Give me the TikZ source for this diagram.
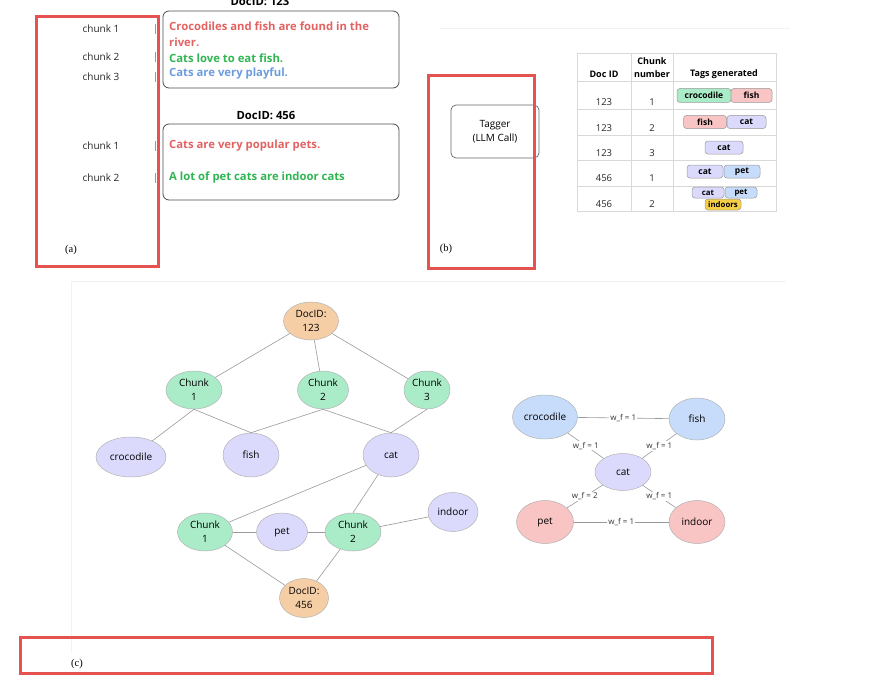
\documentclass[tikz,border=0pt]{standalone}
\usepackage{fontspec}
\setmainfont{Liberation Serif}
\setsansfont{Open Sans}
\usetikzlibrary{shapes.geometric}

\definecolor{frame}{RGB}{229,83,80}
\definecolor{txtred}{RGB}{226,98,98}
\definecolor{txtgreen}{RGB}{48,181,82}
\definecolor{txtblue}{RGB}{106,155,224}
\definecolor{mint}{RGB}{170,236,200}
\definecolor{lav}{RGB}{220,218,252}
\definecolor{peach}{RGB}{246,206,166}
\definecolor{sky}{RGB}{198,220,250}
\definecolor{rose}{RGB}{248,196,196}
\definecolor{gold}{RGB}{245,208,70}

\begin{document}
\begin{tikzpicture}[
    x=1pt, y=-1pt,
    panel/.style={draw=frame, line width=3pt},
    docbox/.style={draw=black!70, rounded corners=6pt, line width=0.8pt},
    chunklbl/.style={font=\sffamily\fontsize{10}{12}\selectfont, text=black!85},
    sentence/.style={anchor=west, inner sep=0pt, font=\sffamily\bfseries\fontsize{11.3}{13}\selectfont},
    title/.style={font=\sffamily\bfseries\fontsize{11.3}{13}\selectfont},
    sublbl/.style={font=\fontsize{10.5}{12}\selectfont},
    cell/.style={font=\sffamily\fontsize{9.5}{11}\selectfont, text=black!85},
    head/.style={font=\sffamily\bfseries\fontsize{9}{13}\selectfont, align=center},
    tag/.style={draw=black!40, rounded corners=3pt, line width=0.5pt, inner sep=0pt,
        minimum height=14pt, font=\sffamily\bfseries\fontsize{8.5}{10}\selectfont},
    smalltag/.style={tag, minimum height=11pt, font=\sffamily\bfseries\fontsize{7.8}{9}\selectfont},
    gnode/.style={ellipse, draw=black!30, line width=0.5pt, inner sep=0pt,
        align=center, font=\sffamily\fontsize{10}{14}\selectfont},
    edge/.style={draw=black!40, line width=0.6pt},
    wlbl/.style={fill=white, inner sep=1pt, font=\sffamily\fontsize{8}{9}\selectfont, text=black!80}
]
\useasboundingbox (0,0) rectangle (879,685);

% faint page lines
\draw[black!5, line width=0.6pt] (440,28) -- (790,28);
\draw[black!5, line width=0.6pt] (71,652) -- (71,281) -- (786,281);

% (a) chunked documents
\node[chunklbl] (a1) at (101,29) {chunk 1};
\node[chunklbl] (a2) at (101,57) {chunk 2};
\node[chunklbl] (a3) at (101,77) {chunk 3};
\node[chunklbl] (a4) at (101,146) {chunk 1};
\node[chunklbl] (a5) at (101,178) {chunk 2};
\foreach \y in {29,57,77,146,178}
    \draw[black!40, line width=0.8pt] (155,\y-5) -- (155,\y+5);

\node[title] (doca) at (260,1.5) {DocID: 123};
\draw[docbox] (163,11) rectangle (399,88);
\node[sentence, text=txtred] (s1) at (169,26) {Crocodiles and fish are found in the};
\node[sentence, text=txtred] (s1b) at (169,42) {river.};
\node[sentence, text=txtgreen] (s2) at (169,58) {Cats love to eat fish.};
\node[sentence, text=txtblue] (s3) at (169,74) {Cats are very playful.};

\node[title] (docb) at (266,115) {DocID: 456};
\draw[docbox] (163,124) rectangle (399,200);
\node[sentence, text=txtred] (s4) at (169,146) {Cats are very popular pets.};
\node[sentence, text=txtgreen] (s5) at (169,178) {A lot of pet cats are indoor cats};

\draw[panel] (36,17) rectangle (158,266);
\node[sublbl] (la) at (71,250) {(a)};

% (b) tagger and table
\node[draw=black!60, rounded corners=5pt, line width=0.7pt, minimum width=88pt,
    minimum height=53pt, align=center, font=\sffamily\fontsize{10}{14}\selectfont]
    (tagger) at (495,131.5) {Tagger\\(LLM Call)};
\draw[panel] (428,76) rectangle (534,268);
\node[sublbl] (lb) at (446,249) {(b)};

\draw[black!15, line width=0.5pt] (577,53) rectangle (776,211);
\foreach \y in {81,109,135,160,186}
    \draw[black!15, line width=0.5pt] (577,\y) -- (776,\y);
\foreach \x in {631,673}
    \draw[black!15, line width=0.5pt] (\x,53) -- (\x,211);
\node[head] (hdoc) at (604,74) {Doc ID};
\node[head] (hnum) at (652,67.5) {Chunk\\number};
\node[head] (htag) at (724,74) {Tags generated};
\foreach \d/\c/\y in {123/1/102,123/2/128,123/3/153,456/1/178,456/2/204} {
    \node[cell] (d\y) at (604,\y) {\d};
    \node[cell] (c\y) at (652,\y) {\c};
}
\node[tag, fill=mint, minimum width=54pt] (t1a) at (704,95.5) {crocodile};
\node[tag, fill=rose, minimum width=41pt] (t1b) at (751.5,95.5) {fish};
\node[tag, fill=rose, minimum width=43pt, minimum height=13pt] (t2a) at (705,122) {fish};
\node[tag, fill=lav, minimum width=39pt, minimum height=13pt] (t2b) at (746.5,122) {cat};
\node[tag, fill=lav, minimum width=38pt, minimum height=13pt] (t3a) at (724,147.5) {cat};
\node[tag, fill=lav, minimum width=36pt, minimum height=13pt] (t4a) at (705,171.5) {cat};
\node[tag, fill=sky, minimum width=36pt, minimum height=13pt] (t4b) at (742,171.5) {pet};
\node[smalltag, fill=lav, minimum width=32pt] (t5a) at (708,192.5) {cat};
\node[smalltag, fill=sky, minimum width=32pt] (t5b) at (741,192.5) {pet};
\node[smalltag, fill=gold, minimum width=36pt] (t5c) at (723,204.5) {indoors};

% (c) graphs
\node[gnode, fill=peach, minimum width=55pt, minimum height=38pt] (doc1) at (311,321) {DocID:\\123};
\node[gnode, fill=mint, minimum width=56pt, minimum height=38pt] (ch1) at (194,390) {Chunk\\1};
\node[gnode, fill=mint, minimum width=51pt, minimum height=38pt] (ch2) at (323,390) {Chunk\\2};
\node[gnode, fill=mint, minimum width=46pt, minimum height=38pt] (ch3) at (427,390) {Chunk\\3};
\node[gnode, fill=lav, minimum width=70pt, minimum height=40pt] (croc) at (131,457) {crocodile};
\node[gnode, fill=lav, minimum width=56pt, minimum height=44pt] (fish) at (251,455) {fish};
\node[gnode, fill=lav, minimum width=56pt, minimum height=44pt] (cat) at (391,455) {cat};
\node[gnode, fill=mint, minimum width=55pt, minimum height=38pt] (chb1) at (205,532) {Chunk\\1};
\node[gnode, fill=lav, minimum width=51pt, minimum height=38pt] (pet) at (282,532) {pet};
\node[gnode, fill=mint, minimum width=56pt, minimum height=38pt] (chb2) at (353,532) {Chunk\\2};
\node[gnode, fill=lav, minimum width=50pt, minimum height=39pt] (indoor) at (453,512) {indoor};
\node[gnode, fill=peach, minimum width=49pt, minimum height=39pt] (doc2) at (304,598) {DocID:\\456};

\draw[edge] (doc1) -- (ch1);
\draw[edge] (doc1) -- (ch2);
\draw[edge] (doc1) -- (ch3);
\draw[edge] (ch1.south) -- (croc);
\draw[edge] (ch1.south) -- (fish.north);
\draw[edge] (ch2.south) -- (fish.north);
\draw[edge] (ch2.south) -- (cat.north);
\draw[edge] (ch3.south) -- (cat.north);
\draw[edge] (cat) -- (chb1);
\draw[edge] (cat) -- (chb2.north);
\draw[edge] (chb1) -- (pet);
\draw[edge] (pet) -- (chb2);
\draw[edge] (chb2) -- (indoor);
\draw[edge] (chb1) -- (doc2);
\draw[edge] (chb2) -- (doc2);

\node[gnode, fill=sky, minimum width=65pt, minimum height=44pt] (rcroc) at (545,417) {crocodile};
\node[gnode, fill=sky, minimum width=56pt, minimum height=42pt] (rfish) at (697,419) {fish};
\node[gnode, fill=lav, minimum width=56pt, minimum height=37pt] (rcat) at (623,472) {cat};
\node[gnode, fill=rose, minimum width=57pt, minimum height=43pt] (rpet) at (545,522) {pet};
\node[gnode, fill=rose, minimum width=56pt, minimum height=43pt] (rindoor) at (697,522) {indoor};

\draw[edge] (rcroc) -- node[wlbl] {w\_f = 1} (rfish);
\draw[edge] (rcroc) -- node[wlbl] {w\_f = 1} (rcat);
\draw[edge] (rfish) -- node[wlbl] {w\_f = 1} (rcat);
\draw[edge] (rcat) -- node[wlbl] {w\_f = 2} (rpet);
\draw[edge] (rcat) -- node[wlbl] {w\_f = 1} (rindoor);
\draw[edge] (rpet) -- node[wlbl] {w\_f = 1} (rindoor);

\draw[panel] (20,637) rectangle (712,673);
\node[sublbl] (lc) at (77,664) {(c)};

\end{tikzpicture}
\end{document}
